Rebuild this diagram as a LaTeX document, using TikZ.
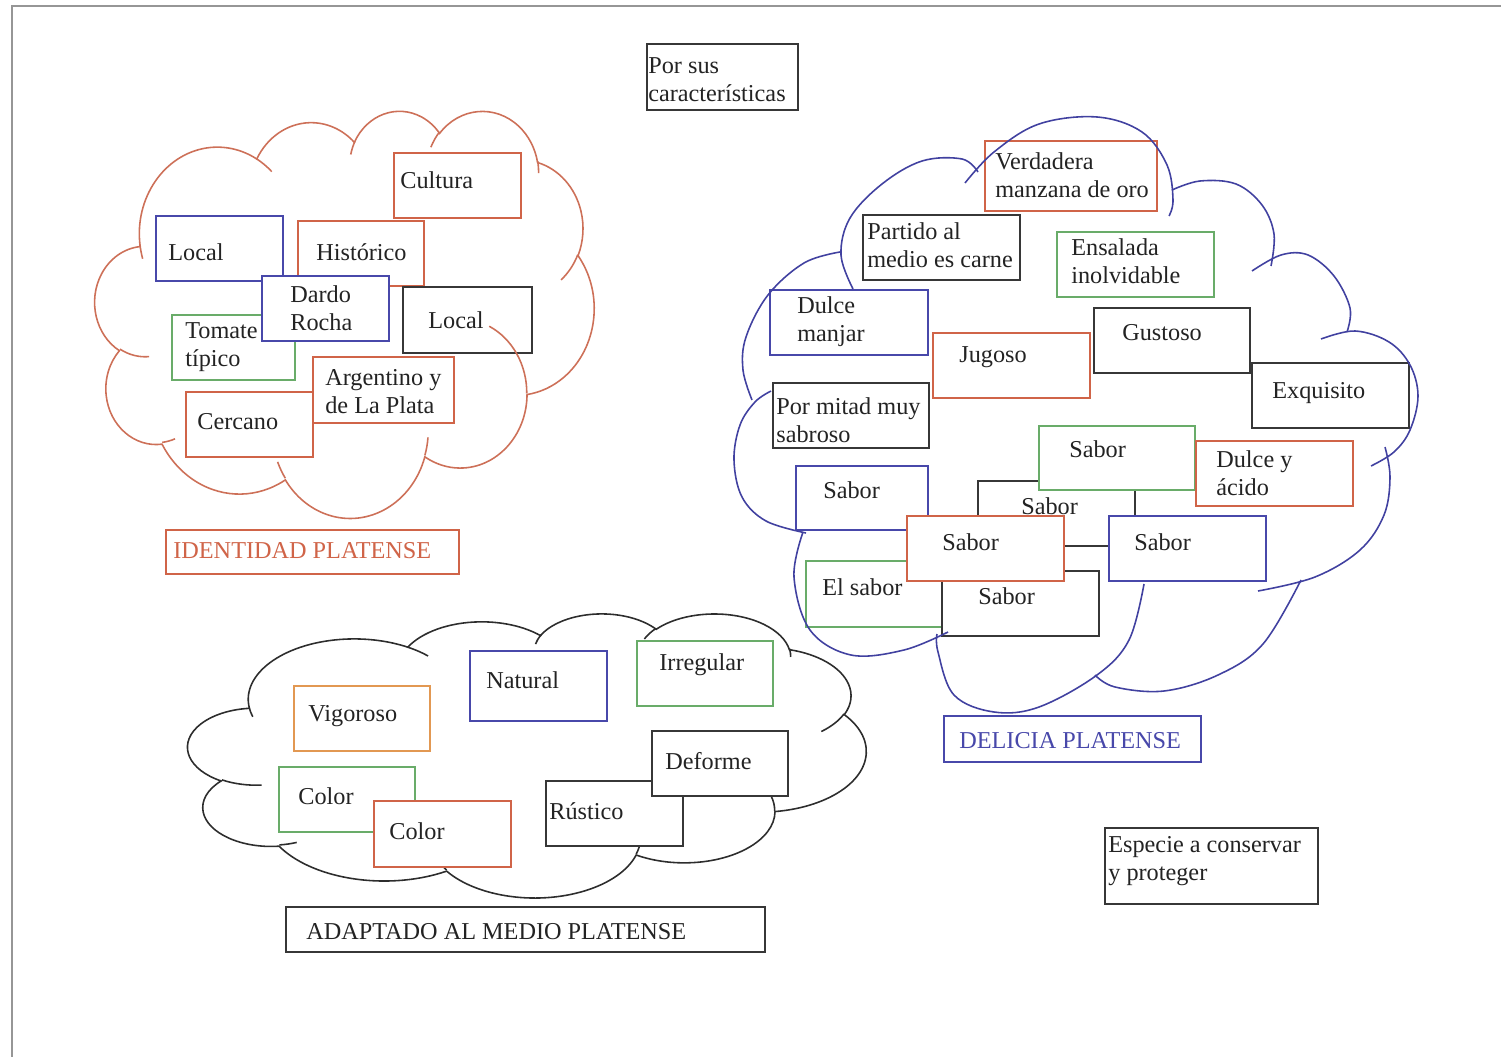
\documentclass[tikz,border=0pt]{standalone}
\usepackage{fontspec}
\setmainfont{Liberation Serif}

\definecolor{Rojo}{RGB}{208,100,72}
\definecolor{Azul}{RGB}{72,72,170}
\definecolor{Verde}{RGB}{105,172,105}
\definecolor{Negro}{RGB}{55,55,55}
\definecolor{Naranja}{RGB}{226,152,82}
\definecolor{Tinta}{RGB}{35,35,35}
\definecolor{NubeRoja}{RGB}{205,112,88}
\definecolor{NubeAzul}{RGB}{65,65,160}
\definecolor{NubeGris}{RGB}{45,45,45}
\definecolor{Marco}{RGB}{150,150,150}

\newcommand{\nube}[5]{%
  \begin{scope}[shift={(#1,#2)},xscale=#3/432,yscale=#4/432]
    \draw[#5] (39.00,143.70)
      \foreach \rx/\ry/\st/\sw [evaluate=\st as \ta using {atan2(\rx*sin(\st),\ry*cos(\st))},
        evaluate=\sw as \dd using {mod(atan2(\rx*sin(\st+\sw),\ry*cos(\st+\sw))-atan2(\rx*sin(\st),\ry*cos(\st))+720,360)}] in
        {67.53/91.90/-190.4875/123.7805, 53.33/72.67/-144.1024/89.9452,
         43.65/59.45/-145.8079/99.7230, 48.57/65.95/-130.9861/117.2417,
         53.33/72.73/-78.7089/109.0269, 67.75/92.20/-46.2673/130.2690,
         57.85/78.67/0.6250/114.0333, 67.52/92.15/22.4516/115.1726,
         77.20/105.43/66.2426/75.7110, 43.60/59.18/-274.9421/146.7356,
         43.45/59.45/-246.8285/152.5189}
      { arc[x radius=\rx,y radius=\ry,start angle=\ta,delta angle=\dd] } -- cycle;
    \draw[#5]
      \foreach \px/\py/\rx/\ry/\st/\sw [evaluate=\st as \ta using {atan2(\rx*sin(\st),\ry*cos(\st))},
        evaluate=\sw as \dd using {mod(atan2(\rx*sin(\st+\sw),\ry*cos(\st+\sw))-atan2(\rx*sin(\st),\ry*cos(\st))+720,360)}] in
        {46.93/261.77/43.45/59.45/86.7420/26.4295, 69.28/348.99/43.60/59.18/73.6105/11.4475,
         164.78/390.90/67.52/92.15/137.6242/14.0811, 288.27/347.51/67.52/92.15/6.4533/15.9984,
         341.29/229.54/57.85/78.67/-70.2924/70.9174, 417.98/153.54/53.33/72.73/30.3180/27.7515,
         383.24/54.26/48.57/65.95/-13.7443/14.8589, 290.78/39.52/48.57/65.95/-149.1815/18.1954,
         221.41/47.20/43.65/59.45/-163.4943/17.8393, 140.00/51.92/67.53/91.90/-66.7070/12.3194,
         41.27/157.89/67.53/91.90/157.6544/11.8582}
      { (\px,\py) arc[x radius=\rx,y radius=\ry,start angle=\ta,delta angle=\dd] };
  \end{scope}}

\begin{document}
\begin{tikzpicture}[x=0.02cm,y=-0.02cm]
  \tikzstyle{Caja}=[line width=1.1pt,fill=white]
  \tikzstyle{Texto}=[anchor=west,inner sep=0pt,align=left,text=Tinta,
                     font=\fontsize{13.8}{16}\selectfont]
  \tikzstyle{Nube}=[line width=0.9pt]

  \useasboundingbox (0,0) rectangle (1501,1057);
  \draw[line width=1.2pt,Marco] (1501,6) -- (12,6) -- (12,1057);

  \draw[Caja,draw=Negro] (647,44) rectangle (798,110);
  \node[Texto] (caracteristicas) at (648,80) {Por sus\\características};
  \draw[Caja,draw=Negro] (1105,828) rectangle (1318,904);
  \node[Texto] (especie) at (1108,861) {Especie a conservar\\y proteger};

  % identidad
  \draw[Caja,draw=Rojo] (394,153) rectangle (521,218);
  \node[Texto] (cultura) at (400,180) {Cultura};
  \draw[Caja,draw=Rojo] (298,221) rectangle (424,286);
  \node[Texto] (historico) at (316,252) {Histórico};
  \draw[Caja,draw=Azul] (156,216) rectangle (283,281);
  \node[Texto] (localA) at (168,252) {Local};
  \draw[Caja,draw=Verde] (172,315) rectangle (295,380);
  \node[Texto] (tomate) at (185,347) {Tomate\\típico};
  \draw[Caja,draw=Azul] (262,276) rectangle (389,341);
  \node[Texto] (dardo) at (290,308) {Dardo\\Rocha};
  \draw[Caja,draw=Negro] (403,287) rectangle (532,353);
  \node[Texto] (localB) at (428,320) {Local};
  \draw[Caja,draw=Rojo] (313,357) rectangle (454,423);
  \node[Texto] (argentino) at (325,392) {Argentino y\\de La Plata};
  \draw[Caja,draw=Rojo] (186,392) rectangle (313,457);
  \node[Texto] (cercano) at (197,422) {Cercano};
  \draw[Caja,draw=Rojo] (166,530) rectangle (459,574);
  \node[Texto,text=Rojo] (identidad) at (173,551) {IDENTIDAD PLATENSE};
  \nube{95}{110}{499}{407}{Nube,NubeRoja}

  % delicia
  \draw[Caja,draw=Rojo] (985,141) rectangle (1157,211);
  \node[Texto] (verdadera) at (995,175) {Verdadera\\manzana de oro};
  \draw[Caja,draw=Negro] (863,215) rectangle (1020,280);
  \node[Texto] (partido) at (867,245) {Partido al\\medio es carne};
  \draw[Caja,draw=Verde] (1057,232) rectangle (1214,297);
  \node[Texto] (ensalada) at (1071,261) {Ensalada\\inolvidable};
  \draw[Caja,draw=Azul] (770,290) rectangle (928,355);
  \node[Texto] (manjar) at (797,322) {Dulce\\manjar};
  \draw[Caja,draw=Rojo] (933,333) rectangle (1090,398);
  \node[Texto] (jugoso) at (959,357) {Jugoso};
  \draw[Caja,draw=Negro] (1094,308) rectangle (1250,373);
  \node[Texto] (gustoso) at (1122,333) {Gustoso};
  \draw[Caja,draw=Negro] (1252,363) rectangle (1409,428);
  \node[Texto] (exquisito) at (1272,393) {Exquisito};
  \draw[Caja,draw=Negro] (773,383) rectangle (929,448);
  \node[Texto] (mitad) at (776,420) {Por mitad muy\\sabroso};
  \draw[Caja,draw=Negro] (978,481) rectangle (1135,546);
  \node[Texto] (saborC) at (1021,506) {Sabor};
  \draw[Caja,draw=Verde] (1039,426) rectangle (1195,490);
  \node[Texto] (saborB) at (1069,449) {Sabor};
  \draw[Caja,draw=Rojo] (1196,441) rectangle (1353,506);
  \node[Texto] (acido) at (1216,473) {Dulce y\\ácido};
  \draw[Caja,draw=Azul] (796,466) rectangle (928,530);
  \node[Texto] (saborA) at (823,490) {Sabor};
  \draw[Caja,draw=Verde] (806,561) rectangle (943,627);
  \node[Texto] (elsabor) at (822,587) {El sabor};
  \draw[Caja,draw=Negro] (942,571) rectangle (1099,636);
  \node[Texto] (saborF) at (978,596) {Sabor};
  \draw[Caja,draw=Rojo] (907,516) rectangle (1064,581);
  \node[Texto] (saborD) at (942,542) {Sabor};
  \draw[Caja,draw=Azul] (1109,516) rectangle (1266,581);
  \node[Texto] (saborE) at (1134,542) {Sabor};
  \draw[Caja,draw=Azul] (944,716) rectangle (1201,762);
  \node[Texto,text=Azul] (delicia) at (959,741) {DELICIA PLATENSE};

  \tikzstyle{Puff}=[Nube,NubeAzul,smooth,tension=0.6]
  \draw[Puff] plot coordinates {(965,183) (994,152) (1039,124) (1097,117) (1142,132) (1167,165) (1173,200) (1169,216)};
  \draw[Puff] plot coordinates {(1172,190) (1200,181) (1236,184) (1262,205) (1274,234) (1271,266)};
  \draw[Puff] plot coordinates {(1252,271) (1281,255) (1308,255) (1334,276) (1350,308) (1347,332)};
  \draw[Puff] plot coordinates {(1321,339) (1355,331) (1389,342) (1410,365) (1418,396) (1410,430) (1394,452) (1371,466)};
  \draw[Puff] plot coordinates {(1385,447) (1390,477) (1384,515) (1360,550) (1315,577) (1258,591)};
  \draw[Puff] plot coordinates {(1301,580) (1263,644) (1218,675) (1164,691) (1115,687) (1095,675)};
  \draw[Puff] plot coordinates {(1144,584) (1129,640) (1097,675) (1039,707) (994,712) (954,695) (938,652) (937,634)};
  \draw[Puff] plot coordinates {(948,632) (904,650) (851,655) (810,630) (794,577) (803,532)};
  \draw[Puff] plot coordinates {(806,533) (766,521) (742,497) (734,460) (740,425) (755,402) (771,391)};
  \draw[Puff] plot coordinates {(752,400) (743,370) (746,337) (768,295) (804,263) (840,252)};
  \draw[Puff] plot coordinates {(853,289) (841,255) (850,218) (882,184) (922,161) (962,159) (978,172)};

  % adaptado
  \nube{188}{613}{678}{284}{Nube,NubeGris}
  \draw[Caja,draw=Azul] (470,651) rectangle (607,721);
  \node[Texto] (natural) at (486,680) {Natural};
  \draw[Caja,draw=Verde] (637,641) rectangle (773,706);
  \node[Texto] (irregular) at (659,665) {Irregular};
  \draw[Caja,draw=Naranja] (294,686) rectangle (430,751);
  \node[Texto] (vigoroso) at (308,716) {Vigoroso};
  \draw[Caja,draw=Verde] (279,767) rectangle (415,832);
  \node[Texto] (colorA) at (298,796) {Color};
  \draw[Caja,draw=Rojo] (374,801) rectangle (511,867);
  \node[Texto] (colorB) at (389,831) {Color};
  \draw[Caja,draw=Negro] (546,781) rectangle (683,846);
  \node[Texto] (rustico) at (549,811) {Rústico};
  \draw[Caja,draw=Negro] (652,731) rectangle (788,796);
  \node[Texto] (deforme) at (665,761) {Deforme};
  \draw[Caja,draw=Negro] (286,907) rectangle (765,952);
  \node[Texto] (adaptado) at (306,932) {ADAPTADO AL MEDIO PLATENSE};
\end{tikzpicture}
\end{document}
